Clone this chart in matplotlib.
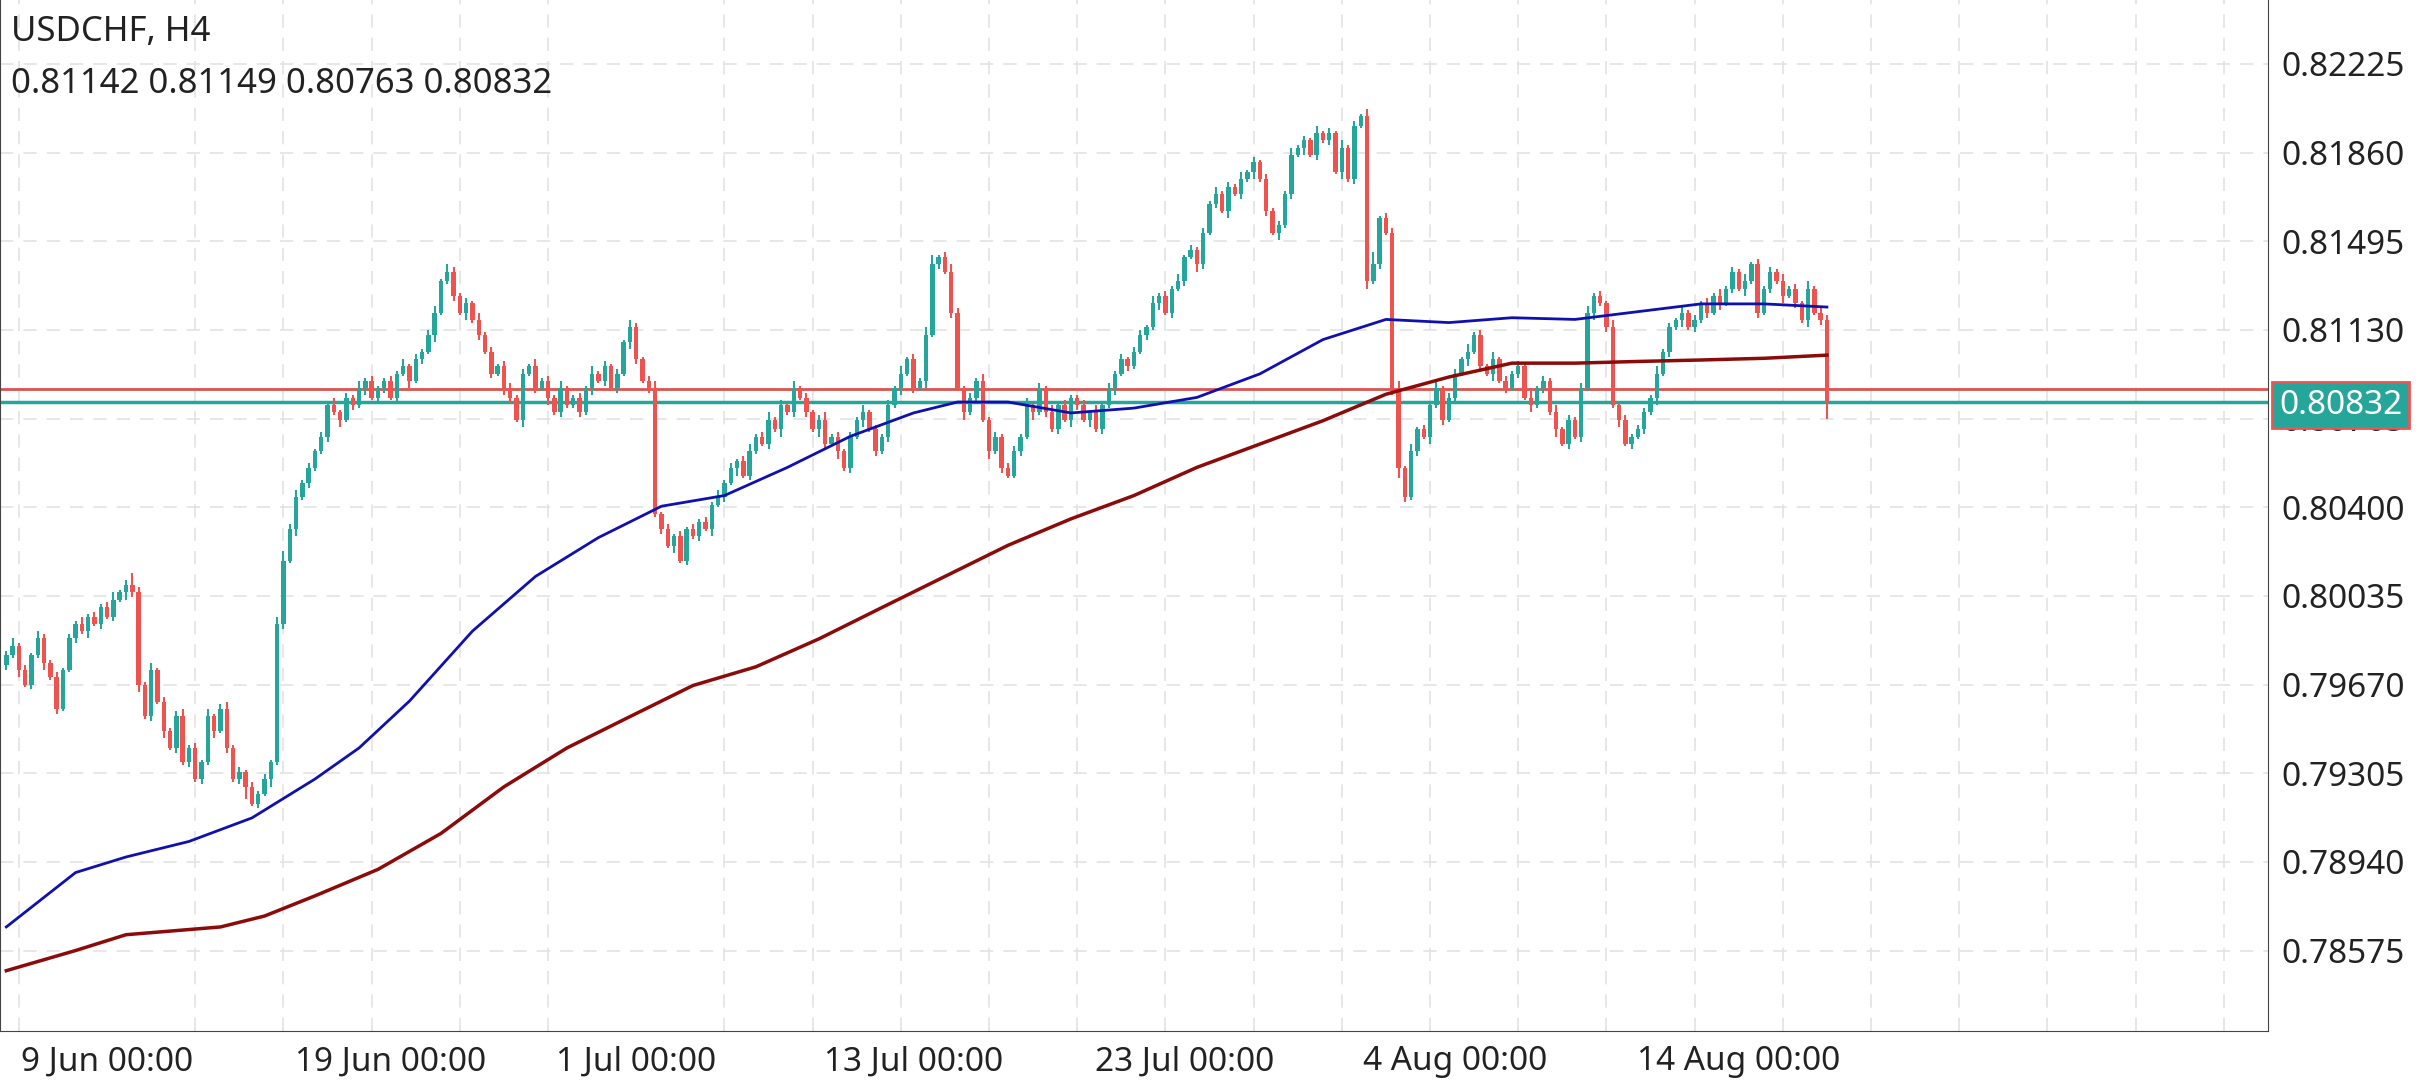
import matplotlib
matplotlib.use("Agg")
import matplotlib.pyplot as plt
import numpy as np

plt.rcParams['font.family'] = ['Noto Sans', 'DejaVu Sans']

closes = [
0.7979,0.7983,0.7973,0.7967,0.7979,0.7986,0.7976,0.7970,0.7957,0.7973,
0.7986,0.7992,0.7989,0.7995,0.7992,0.7999,0.7995,0.8002,0.8005,0.8008,
0.8005,0.7967,0.7954,0.7973,0.7960,0.7948,0.7941,0.7954,0.7935,0.7941,
0.7928,0.7935,0.7954,0.7948,0.7957,0.7941,0.7928,0.7931,0.7925,0.7918,
0.7922,0.7928,0.7935,0.7992,0.8018,0.8031,0.8044,0.8050,0.8056,0.8063,
0.8069,0.8082,0.8079,0.8076,0.8085,0.8082,0.8089,0.8092,0.8085,0.8089,
0.8092,0.8085,0.8095,0.8098,0.8092,0.8101,0.8104,0.8111,0.8120,0.8133,
0.8137,0.8127,0.8120,0.8124,0.8117,0.8111,0.8104,0.8095,0.8098,0.8089,
0.8085,0.8076,0.8095,0.8098,0.8089,0.8092,0.8085,0.8079,0.8089,0.8082,
0.8085,0.8079,0.8089,0.8095,0.8092,0.8098,0.8089,0.8095,0.8108,0.8114,
0.8101,0.8092,0.8089,0.8037,0.8031,0.8024,0.8028,0.8018,0.8031,0.8028,
0.8034,0.8031,0.8041,0.8044,0.8050,0.8056,0.8059,0.8053,0.8063,0.8069,
0.8066,0.8076,0.8072,0.8082,0.8079,0.8089,0.8085,0.8079,0.8072,0.8076,
0.8066,0.8069,0.8063,0.8056,0.8069,0.8076,0.8079,0.8072,0.8063,0.8069,
0.8082,0.8089,0.8095,0.8101,0.8089,0.8092,0.8111,0.8140,0.8143,0.8137,
0.8120,0.8089,0.8079,0.8085,0.8092,0.8076,0.8063,0.8069,0.8056,0.8053,
0.8063,0.8069,0.8082,0.8079,0.8089,0.8079,0.8072,0.8082,0.8076,0.8085,
0.8082,0.8076,0.8079,0.8072,0.8082,0.8089,0.8095,0.8101,0.8098,0.8104,
0.8111,0.8114,0.8124,0.8127,0.8120,0.8130,0.8133,0.8143,0.8146,0.8140,
0.8153,0.8165,0.8169,0.8162,0.8172,0.8169,0.8175,0.8178,0.8182,0.8175,
0.8162,0.8153,0.8156,0.8169,0.8185,0.8188,0.8191,0.8185,0.8194,0.8191,
0.8194,0.8178,0.8188,0.8175,0.8197,0.8201,0.8133,0.8140,0.8159,0.8153,
0.8089,0.8056,0.8044,0.8063,0.8072,0.8069,0.8082,0.8089,0.8076,0.8085,
0.8095,0.8101,0.8104,0.8111,0.8098,0.8095,0.8101,0.8092,0.8089,0.8095,
0.8098,0.8085,0.8082,0.8089,0.8092,0.8079,0.8072,0.8066,0.8076,0.8069,
0.8089,0.8120,0.8127,0.8124,0.8114,0.8082,0.8076,0.8066,0.8069,0.8072,
0.8079,0.8085,0.8095,0.8104,0.8114,0.8117,0.8120,0.8114,0.8117,0.8124,
0.8120,0.8127,0.8124,0.8130,0.8137,0.8130,0.8133,0.8140,0.8120,0.8130,
0.8137,0.8133,0.8127,0.8130,0.8124,0.8117,0.8130,0.8120,0.8117,0.80832]
first_open = 0.7975
# wick lengths in pips (upper / lower), estimated
wick_up = ("2312132121" "2131212312" "5213121231" "2131231212" "1213423121"
           "2131213121" "1213121231" "3212131212" "2121312131" "1213121213"
           "2123121212" "1213121231" "2312131212" "3121213121" "2131213412"
           "3212131212" "2131213121" "1213121212" "2131213121" "2131213121"
           "2121312131" "2131213512" "2313121312" "2131213121" "2131213121"
           "2312131212" "2131213121" "2131213121" "2131213122")
wick_dn = ("2131213121" "1213121213" "2312131212" "1213121251" "2131213121"
           "1213121312" "2121312131" "1213121213" "2131213121" "1213121213"
           "2121213121" "2131213121" "1213121213" "2131213121" "2131213121"
           "2131213121" "1213121213" "2131213121" "1213121213" "2121312131"
           "2131213121" "2131213121" "3421213121" "2131213121" "2131213121"
           "2131213121" "2131213121" "2131213121" "2131213127")

ticks_y = [0.82225, 0.81860, 0.81495, 0.81130, 0.80765, 0.80400, 0.80035,
           0.79670, 0.79305, 0.78940, 0.78575]
date_idx = [16, 61, 100, 144, 187, 230, 275]
date_lbl = ["9 Jun 00:00", "19 Jun 00:00", "1 Jul 00:00", "13 Jul 00:00",
            "23 Jul 00:00", "4 Aug 00:00", "14 Aug 00:00"]

ma_fast_idx = [0,11,19,29,39,49,56,64,74,84,94,104,114,124,134,144,151,159,169,
               179,189,199,209,219,229,239,249,259,269,279,289]
ma_fast = [0.78672,0.78896,0.78960,0.79024,0.79121,0.79281,0.79409,0.79602,0.79890,
           0.80115,0.80275,0.80404,0.80448,0.80564,0.80692,0.80788,0.80833,0.80833,
           0.80788,0.80808,0.80852,0.80949,0.81090,0.81173,0.81160,0.81180,0.81173,
           0.81205,0.81237,0.81237,0.81224]
ma_slow_idx = [0,11,19,34,41,49,59,69,79,89,99,109,119,129,139,149,159,169,179,
               189,199,209,219,229,239,249,259,269,279,289]
ma_slow = [0.78492,0.78575,0.78640,0.78672,0.78717,0.78800,0.78909,0.79057,0.79249,
           0.79409,0.79538,0.79666,0.79743,0.79858,0.79987,0.80115,0.80243,0.80352,
           0.80448,0.80564,0.80660,0.80756,0.80865,0.80936,0.80993,0.80993,0.81000,
           0.81006,0.81013,0.81026]
ask_line = 0.80885
bid_line = 0.80832

up_c, dn_c = "#26a69a", "#ef5350"
fig = plt.figure(figsize=(24.36, 10.8), dpi=100)
ax = fig.add_axes([0.0, 0.045, 0.931, 0.955])
n = len(closes)
opens = [first_open] + closes[:-1]
for i in range(n):
    o, c = opens[i], closes[i]
    hi = max(o, c) + int(wick_up[i]) * 0.0001
    lo = min(o, c) - int(wick_dn[i]) * 0.0001
    col = up_c if c >= o else dn_c
    ax.vlines(i, lo, hi, color=col, lw=1.5, zorder=3)
    ax.bar(i, max(abs(c - o), 0.00003), bottom=min(o, c), width=0.7, color=col, zorder=4)

ax.plot(ma_fast_idx, ma_fast, color="#1010b0", lw=2, zorder=5)
ax.plot(ma_slow_idx, ma_slow, color="#8b0a0a", lw=2.5, zorder=5)
ax.axhline(ask_line, color="#d9534f", lw=2, zorder=2)
ax.axhline(bid_line, color="#26a69a", lw=2.5, zorder=2)

ax.set_xlim(-1.0, 359.0)
ax.set_ylim(0.78242, 0.82488)
ax.yaxis.tick_right()
ax.set_yticks(ticks_y)
ax.set_yticklabels([f"{t:.5f}" for t in ticks_y])
ax.set_xticks(date_idx)
ax.set_xticklabels(date_lbl)
ax.tick_params(axis='both', labelsize=24, length=0, pad=10, colors="#222222")
ax.set_xticks(np.arange(2, 361, 14), minor=True)
ax.tick_params(axis='x', which='minor', length=0)
ax.grid(True, which='major', axis='y', color="#e3e3e3", ls=(0, (8, 6)), lw=1.2)
ax.grid(True, which='minor', axis='x', color="#e3e3e3", ls=(0, (8, 6)), lw=1.2)
ax.spines["top"].set_visible(False)
for s in ["left", "right", "bottom"]:
    ax.spines[s].set_color("#444444")

ax.text(0.005, 0.985, "USDCHF, H4", transform=ax.transAxes, fontsize=25, va="top", color="#222222")
ax.text(0.005, 0.935, "0.81142 0.81149 0.80763 0.80832", transform=ax.transAxes,
        fontsize=25, va="top", color="#222222")
ax.annotate("0.80832", xy=(1.0, bid_line), xycoords=('axes fraction', 'data'),
            xytext=(8, -2), textcoords='offset points', va='center', ha='left',
            fontsize=24, color='white', annotation_clip=False, zorder=10,
            bbox=dict(boxstyle='square,pad=0.2', fc=up_c, ec=dn_c, lw=2))
fig.savefig("out.png", dpi=100)
